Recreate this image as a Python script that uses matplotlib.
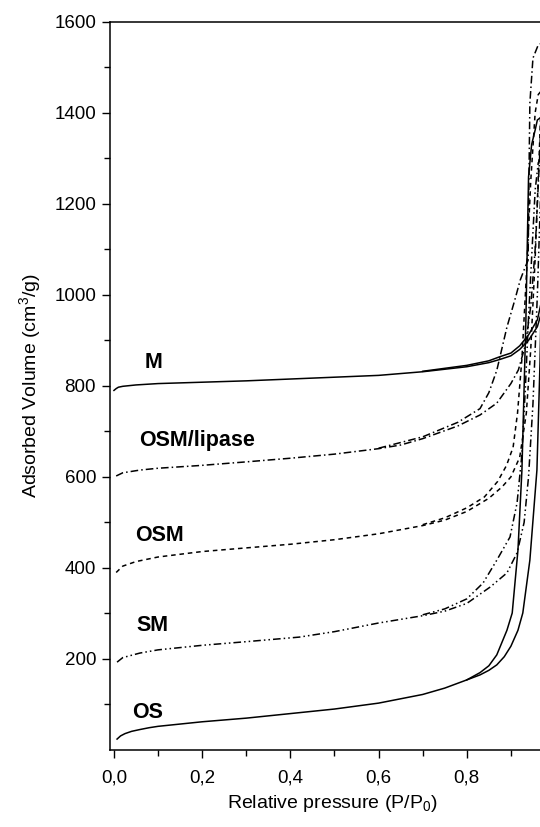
import matplotlib
matplotlib.use("Agg")
from matplotlib import pyplot as plt
from matplotlib.ticker import FuncFormatter, MultipleLocator

plt.rcParams['font.family'] = ['Liberation Sans', 'DejaVu Sans']
plt.rcParams['mathtext.fontset'] = 'custom'
plt.rcParams['mathtext.rm'] = 'Liberation Sans'
plt.rcParams['mathtext.it'] = 'Liberation Sans'

# M (solid)
m_ads_x = [0.0, 0.005, 0.01, 0.02, 0.05, 0.1, 0.2, 0.3, 0.4, 0.5, 0.6, 0.7, 0.8, 0.85, 0.875, 0.9, 0.92, 0.94, 0.96, 0.975]
m_ads_y = [790, 794, 797, 799, 802, 805, 808, 811, 815, 819, 823, 831, 842, 851, 858, 866, 880, 900, 930, 980]
m_des_x = [0.7, 0.8, 0.85, 0.875, 0.9, 0.92, 0.94, 0.96, 0.975]
m_des_y = [832, 845, 855, 864, 872, 888, 912, 945, 1010]

# OS (solid)
os_ads_x = [0.007, 0.015, 0.025, 0.04, 0.059, 0.08, 0.1, 0.15, 0.2, 0.3, 0.42, 0.5, 0.6, 0.7, 0.75, 0.8, 0.83, 0.85, 0.868, 0.885, 0.9, 0.916, 0.927, 0.943, 0.959, 0.966, 0.975]
os_ads_y = [24, 31, 36, 41, 45, 49, 52, 57, 62, 70, 82, 90, 103, 122, 136, 154, 165, 175, 187, 205, 228, 263, 301, 417, 615, 850, 1300]
os_des_x = [0.8, 0.83, 0.85, 0.868, 0.891, 0.903, 0.916, 0.925, 0.934, 0.94, 0.947, 0.955, 0.96, 0.975]
os_des_y = [154, 170, 185, 209, 263, 301, 439, 615, 944, 1259, 1330, 1362, 1384, 1395]

# OSM/lipase (dash-dot)
osl_ads_x = [0.005, 0.02, 0.059, 0.1, 0.195, 0.3, 0.4, 0.5, 0.6, 0.65, 0.7, 0.78, 0.83, 0.868, 0.9, 0.917, 0.933, 0.945, 0.955, 0.965, 0.975]
osl_ads_y = [602, 609, 615, 619, 625, 633, 641, 650, 662, 670, 684, 712, 736, 762, 805, 835, 890, 975, 1100, 1300, 1600]
osl_des_x = [0.6, 0.7, 0.78, 0.83, 0.85, 0.868, 0.891, 0.909, 0.921, 0.932, 0.939, 0.941, 0.943, 0.95, 0.962, 0.975]
osl_des_y = [663, 688, 720, 750, 785, 834, 929, 989, 1032, 1060, 1076, 1259, 1421, 1520, 1549, 1555]

# OSM (dashed)
osm_ads_x = [0.005, 0.02, 0.05, 0.1, 0.2, 0.3, 0.4, 0.5, 0.6, 0.7, 0.75, 0.8, 0.85, 0.88, 0.9, 0.92, 0.935, 0.945, 0.955, 0.965, 0.975]
osm_ads_y = [390, 404, 414, 424, 436, 444, 452, 462, 475, 493, 505, 524, 553, 578, 600, 643, 740, 880, 1080, 1330, 1600]
osm_des_x = [0.7, 0.75, 0.8, 0.84, 0.87, 0.89, 0.905, 0.915, 0.925, 0.935, 0.945, 0.955, 0.962, 0.975]
osm_des_y = [495, 510, 532, 556, 590, 625, 665, 740, 860, 1040, 1250, 1400, 1440, 1455]

# SM (dash-dot-dot)
sm_ads_x = [0.007, 0.02, 0.059, 0.1, 0.2, 0.3, 0.42, 0.5, 0.6, 0.7, 0.75, 0.8, 0.853, 0.891, 0.914, 0.93, 0.94, 0.95, 0.96, 0.97, 0.98]
sm_ads_y = [193, 203, 213, 220, 230, 238, 248, 260, 279, 295, 305, 322, 358, 389, 433, 500, 600, 760, 1000, 1300, 1600]
sm_des_x = [0.7, 0.75, 0.8, 0.837, 0.868, 0.898, 0.914, 0.925, 0.933, 0.94, 0.948, 0.955, 0.962, 0.975]
sm_des_y = [297, 310, 332, 367, 417, 468, 543, 650, 800, 950, 1100, 1230, 1290, 1310]

labels = ["M", "OSM/lipase", "OSM", "SM", "OS"]
label_x = [0.07, 0.058, 0.048, 0.052, 0.042]
label_y = [852, 680, 472, 274, 83]

fig = plt.figure(figsize=(5.4, 8.27), dpi=100)
ax = fig.add_axes([110 / 540, 77 / 827, 445 / 540, 728.3 / 827])

lw = 1.1
ax.plot(m_ads_x, m_ads_y, color='black', lw=lw)
ax.plot(m_des_x, m_des_y, color='black', lw=lw)
ax.plot(os_ads_x, os_ads_y, color='black', lw=lw)
ax.plot(os_des_x, os_des_y, color='black', lw=lw)
ax.plot(osl_ads_x, osl_ads_y, color='black', lw=lw, linestyle=(0, (5, 2, 1, 2)))
ax.plot(osl_des_x, osl_des_y, color='black', lw=lw, linestyle=(0, (5, 2, 1, 2)))
ax.plot(osm_ads_x, osm_ads_y, color='black', lw=lw, linestyle=(0, (3, 2.5)))
ax.plot(osm_des_x, osm_des_y, color='black', lw=lw, linestyle=(0, (3, 2.5)))
ax.plot(sm_ads_x, sm_ads_y, color='black', lw=lw, linestyle=(0, (5, 2, 1, 2, 1, 2)))
ax.plot(sm_des_x, sm_des_y, color='black', lw=lw, linestyle=(0, (5, 2, 1, 2, 1, 2)))

for t, x, y in zip(labels, label_x, label_y):
    ax.text(x, y, t, fontsize=15.5, fontweight='bold', ha='left', va='center')

ax.set_xlim(-0.009, 1.0)
ax.set_ylim(0, 1600)
ax.set_xticks([0.0, 0.2, 0.4, 0.6, 0.8])
ax.xaxis.set_minor_locator(MultipleLocator(0.1))
ax.set_yticks([200, 400, 600, 800, 1000, 1200, 1400, 1600])
ax.set_yticks([100, 300, 500, 700, 900, 1100, 1300, 1500], minor=True)
ax.xaxis.set_major_formatter(FuncFormatter(lambda v, p: f"{v:.1f}".replace('.', ',')))
ax.tick_params(which='major', direction='out', length=6, width=1, labelsize=13.5, pad=4)
ax.tick_params(which='minor', direction='out', length=4, width=1)
ax.tick_params(axis='x', which='major', pad=8)
ax.spines['right'].set_visible(False)
for s in ['left', 'bottom', 'top']:
    ax.spines[s].set_linewidth(1.1)

ax.set_xlabel(r"Relative pressure (P/P$_0$)", fontsize=14, labelpad=5)
ax.set_ylabel(r"Adsorbed Volume (cm$^3$/g)", fontsize=14, labelpad=8)

plt.savefig("out.png", dpi=100)
